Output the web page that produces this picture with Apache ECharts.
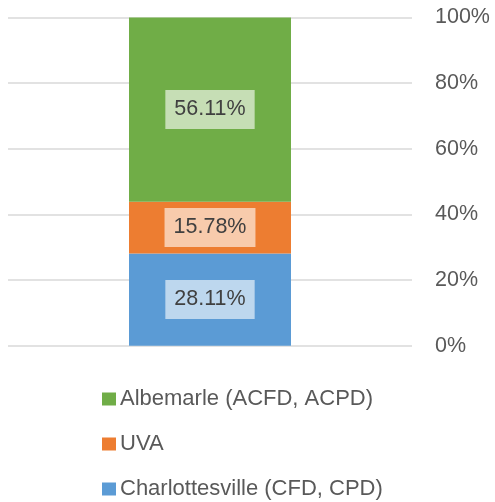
<!DOCTYPE html>
<html><head><meta charset="utf-8">
<script src="https://cdn.jsdelivr.net/npm/echarts@6/dist/echarts.min.js"></script>
<style>html,body{margin:0;padding:0;background:#fff}#c{width:495px;height:502px}</style>
</head><body><div id="c"></div>
<script>
const categories = ['Total'];
const seriesNames = ['Charlottesville (CFD, CPD)', 'UVA', 'Albemarle (ACFD, ACPD)'];
const charlottesville = [28.11];
const uva = [15.78];
const albemarle = [56.11];
const yTicks = [0, 20, 40, 60, 80, 100];

const colors = ['#5B9BD5', '#ED7D31', '#70AD47'];
const values = [charlottesville, uva, albemarle];
const FONT = 'Liberation Sans';
const FS = 21.5;
const chart = echarts.init(document.getElementById('c'));
const series = seriesNames.map((n, i) => ({
  name: n, type: 'bar', stack: 'a', data: values[i], barWidth: 162,
  itemStyle: { color: colors[i] },
  label: {
    show: true, position: 'inside', formatter: p => p.value.toFixed(2) + '%',
    color: '#404040', fontSize: FS, fontFamily: FONT,
    backgroundColor: 'rgba(255,255,255,0.6)', padding: [10, 9, 7, 9]
  }
}));
const legendTops = [383, 428, 473];
const legendOrder = [2, 1, 0];
chart.setOption({
  animation: false,
  grid: { left: 8, right: 83, top: 17.5, bottom: 156.3 },
  xAxis: { type: 'category', data: categories, show: false },
  yAxis: {
    type: 'value', position: 'right', min: yTicks[0], max: yTicks[yTicks.length - 1], interval: 20,
    axisLine: { show: false }, axisTick: { show: false },
    axisLabel: { formatter: '{value}%', color: '#595959', fontSize: FS, fontFamily: FONT, margin: 23 },
    splitLine: { lineStyle: { color: '#d9d9d9', width: 1.5 } }
  },
  legend: legendOrder.map((idx, k) => ({
    data: [seriesNames[idx]], left: 97, top: legendTops[k], icon: 'rect',
    itemWidth: 14, itemHeight: 13, itemGap: 4,
    textStyle: { color: '#595959', fontSize: 22, fontFamily: FONT, padding: [0, 0, 0, -1] }
  })),
  series
});
</script></body></html>
